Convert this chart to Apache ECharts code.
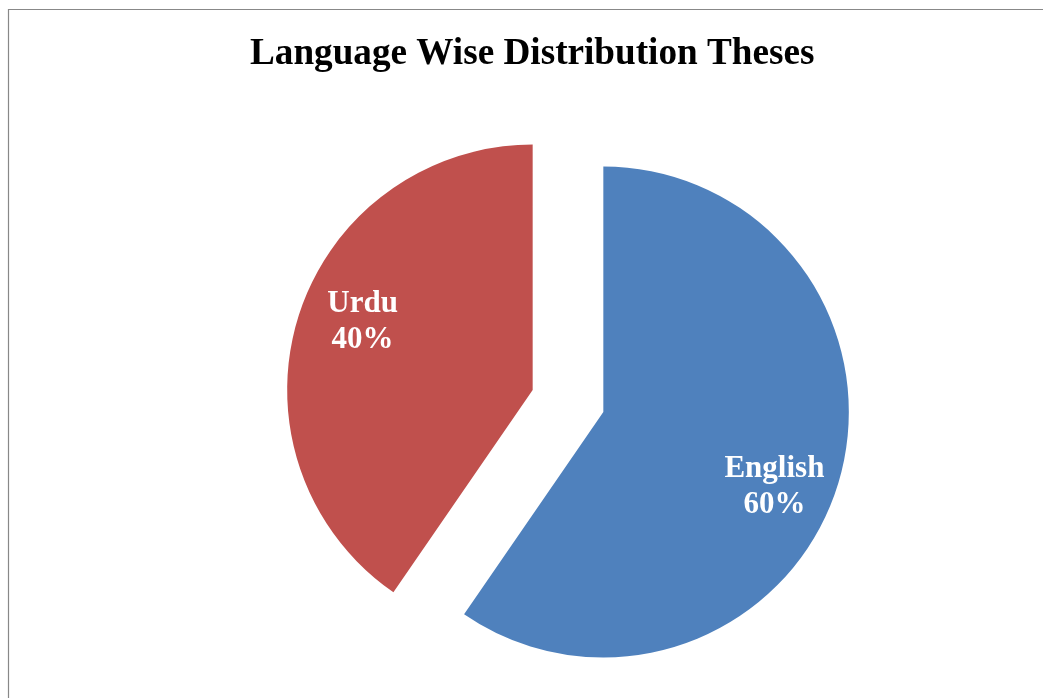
<!DOCTYPE html>
<html>
<head>
<meta charset="utf-8">
<script src="https://cdn.jsdelivr.net/npm/echarts@6/dist/echarts.min.js"></script>
<style>
html,body{margin:0;padding:0;background:#fff;}
#chart{width:1043px;height:698px;}
</style>
</head>
<body>
<div id="chart"></div>
<script>
const categories = ['English', 'Urdu'];
const shareValues = [59.6, 40.4];
const sliceColors = ['#4F81BD', '#C0504D'];
const labelShifts = [[51, 38], [-50, -31]];

const chart = echarts.init(document.getElementById('chart'), null, {renderer: 'canvas'});
const data = categories.map((name, i) => ({
  name: name,
  value: shareValues[i],
  selected: true,
  itemStyle: {color: sliceColors[i]}
}));

chart.setOption({
  animation: false,
  backgroundColor: '#ffffff',
  title: {
    text: 'Language Wise Distribution Theses',
    left: 245,
    top: 31,
    textStyle: {
      fontFamily: 'Liberation Serif',
      fontWeight: 'bold',
      fontSize: 37.2,
      color: '#000000'
    }
  },
  graphic: [{
    type: 'rect',
    shape: {x: 8.5, y: 9.5, width: 1200, height: 900},
    style: {fill: 'none', stroke: '#888888', lineWidth: 1.2},
    silent: true
  }],
  series: [{
    type: 'pie',
    center: [568, 401],
    radius: 245.5,
    startAngle: 90,
    clockwise: true,
    selectedMode: 'multiple',
    selectedOffset: 37,
    emphasis: {disabled: true},
    select: {itemStyle: {borderWidth: 0}},
    itemStyle: {borderWidth: 0},
    label: {
      show: true,
      position: 'inside',
      formatter: p => p.name + '\n' + Math.round(p.percent) + '%',
      fontFamily: 'Liberation Serif',
      fontWeight: 'bold',
      fontSize: 31,
      lineHeight: 36,
      color: '#ffffff',
      align: 'center'
    },
    labelLayout: p => ({dx: labelShifts[p.dataIndex][0], dy: labelShifts[p.dataIndex][1]}),
    labelLine: {show: false},
    data: data
  }]
});
</script>
</body>
</html>
